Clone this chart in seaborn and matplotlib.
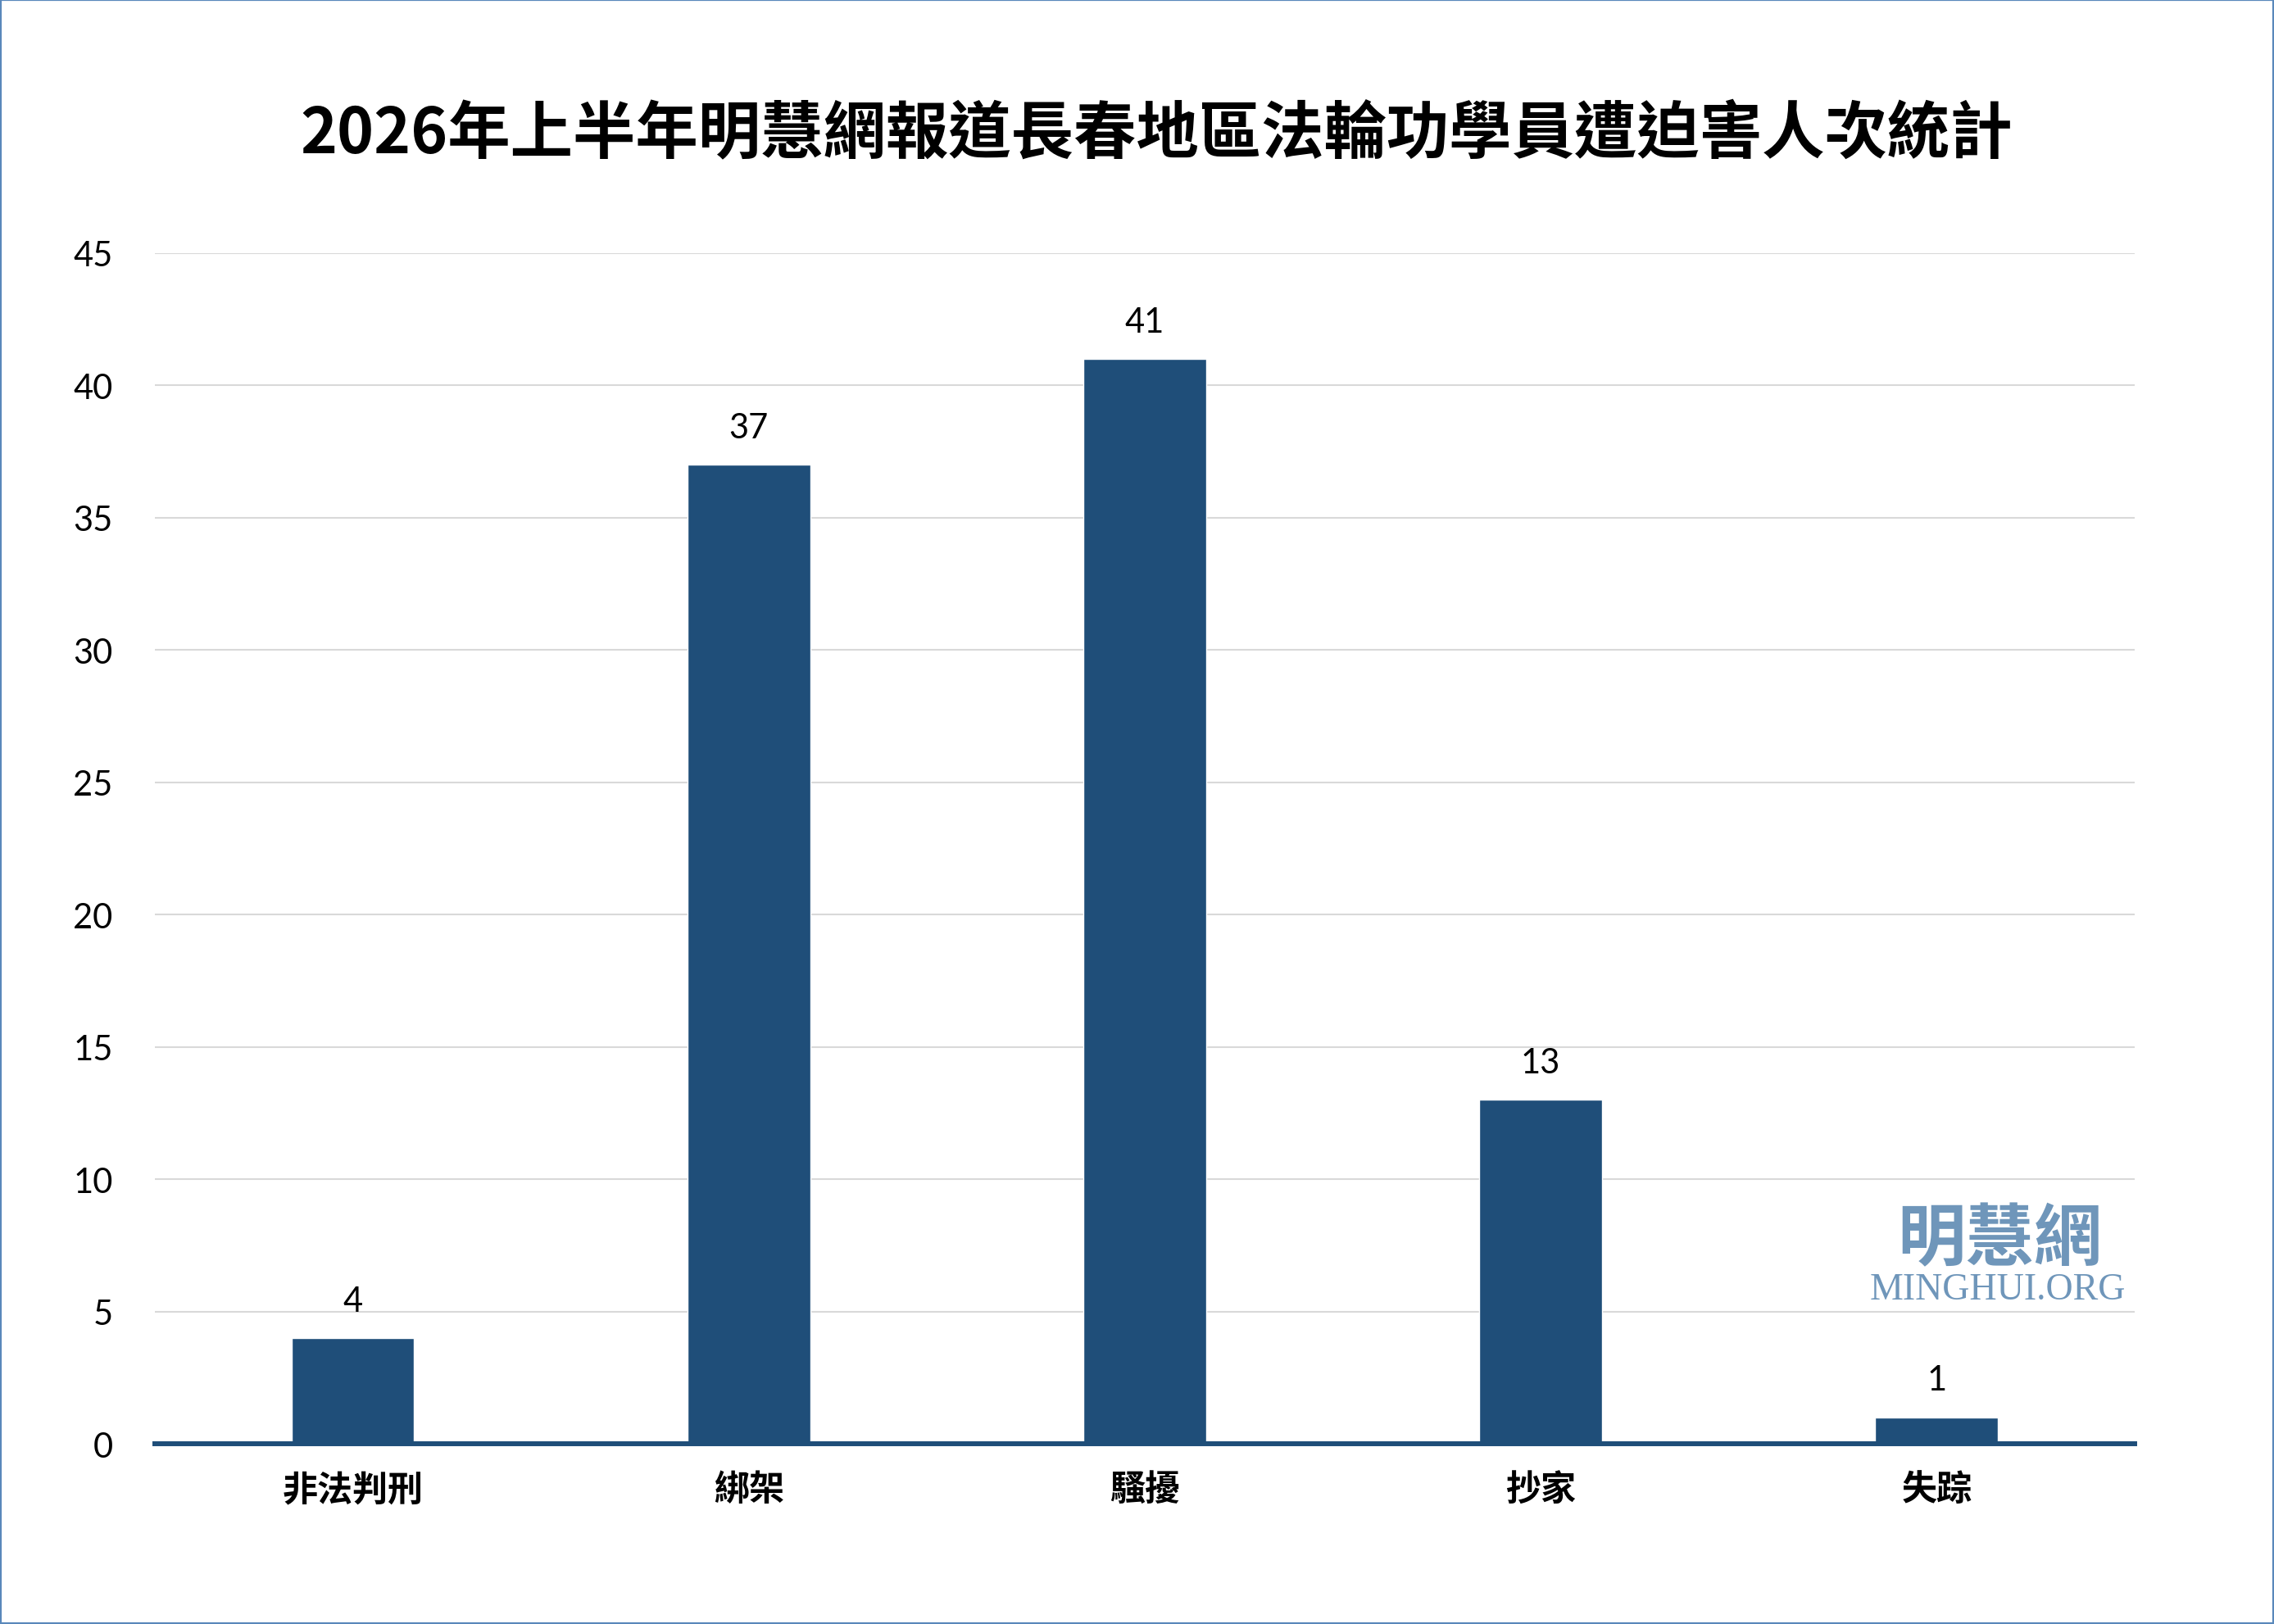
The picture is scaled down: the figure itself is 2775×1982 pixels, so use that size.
import seaborn as sns
import matplotlib.pyplot as plt
import matplotlib.patches as mpatches
import pandas as pd

categories = ['非法判刑', '綁架', '騷擾', '抄家', '失踪']
counts = [4, 37, 41, 13, 1]
y_ticks = [0, 5, 10, 15, 20, 25, 30, 35, 40, 45]
title = '2026年上半年明慧網報道長春地區法輪功學員遭迫害人次統計'

BAR_COLOR = '#1f4e79'
MARK_COLOR = '#6f96ba'
CJK = ['Noto Sans CJK TC', 'DejaVu Sans']

df = pd.DataFrame({'category': categories, 'count': counts})

sns.set_theme(style='white')
plt.rcParams['font.family'] = ['Lato', 'Noto Sans CJK TC', 'DejaVu Sans']

fig = plt.figure(figsize=(27.75, 19.83), dpi=100)
ax = fig.add_axes([0.0681, 0.1109, 0.8706, 0.7328])

sns.barplot(data=df, x='category', y='count', color=BAR_COLOR,
            saturation=1, width=0.31, ax=ax)

ax.set_xlim(-0.5, len(categories) - 0.5)
ax.set_ylim(0, 45)
ax.set_yticks(y_ticks)
ax.set_xlabel('')
ax.set_ylabel('')

ax.yaxis.grid(True, color='#d9d9d9', linewidth=1.5)
ax.set_axisbelow(True)
for side in ['top', 'right', 'left']:
    ax.spines[side].set_visible(False)
ax.spines['bottom'].set_color(BAR_COLOR)
ax.spines['bottom'].set_linewidth(4.3)
ax.spines['bottom'].set_zorder(3)

ax.tick_params(axis='y', length=0, pad=37, labelsize=30, labelcolor='black')
ax.tick_params(axis='x', length=0, pad=24)
for lbl in ax.get_xticklabels():
    lbl.set_fontfamily(CJK)
    lbl.set_fontweight('bold')
    lbl.set_fontsize(31)
    lbl.set_color('black')

ax.bar_label(ax.containers[0], fontsize=30, padding=19, color='black')

fig.text(0.5085, 0.917, title, ha='center', va='center', fontsize=55,
         fontweight='bold', family=CJK, color='black')

# watermark
fig.text(0.8793, 0.2365, '明慧網', ha='center', va='center', fontsize=60,
         fontweight='semibold', family=CJK, color=MARK_COLOR)
fig.text(0.8786, 0.2060, 'MINGHUI.ORG', ha='center', va='center', fontsize=33,
         family=['Liberation Serif'], color=MARK_COLOR)

# thin frame round the picture
fig.patches.append(mpatches.Rectangle((0.0005, 0.0007), 0.999, 0.9986,
                                      transform=fig.transFigure, fill=False,
                                      edgecolor='#5a88bb', linewidth=1.6))

plt.savefig('out.png', dpi=100)
